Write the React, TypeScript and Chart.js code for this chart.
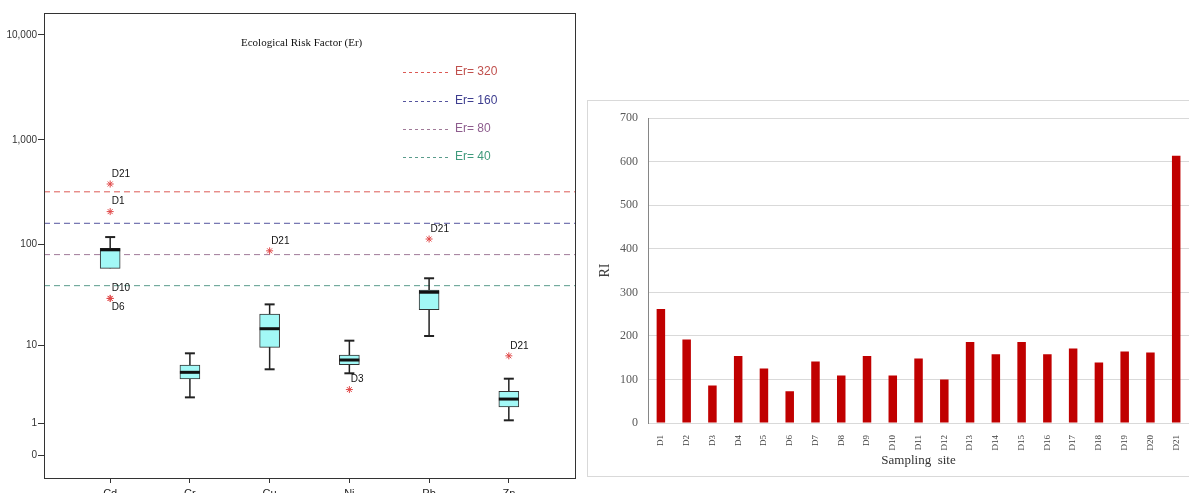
import React, { useEffect, useRef } from "react";
import { Chart, registerables } from "chart.js";

Chart.register(...registerables);

// ---------- Left panel: Ecological Risk Factor (Er) box plots ----------
const elements = ["Cd", "Cr", "Cu", "Ni", "Pb", "Zn"];
const whiskerMin = [59, 2.54, 5.55, 5.0, 12.6, 1.14];
const quartile1 = [59, 4.29, 9.6, 6.24, 23.2, 1.87];
const medians = [89, 5.13, 14.95, 7.03, 34.5, 2.41];
const quartile3 = [92, 6.19, 21.0, 7.96, 36.3, 3.04];
const whiskerMax = [118, 8.3, 26.2, 11.27, 47.2, 4.33];

const outlierElement = [0, 0, 0, 0, 2, 3, 4, 5];
const outlierValues = [380, 207, 30, 30, 87, 3.2, 113, 7.8];
const outlierSites = ["D21", "D1", "D10", "D6", "D21", "D3", "D21", "D21"];
const outlierLabelBelow = [false, false, false, true, false, false, false, false];

const erThresholds = [320, 160, 80, 40];
const erLegendLabels = ["Er= 320", "Er= 160", "Er= 80", "Er= 40"];
const erTickValues = [0, 1, 10, 100, 1000, 10000];
const erTickLabels = ["0", "1", "10", "100", "1,000", "10,000"];

// ---------- Right panel: RI per sampling site ----------
const sites = [
  "D1", "D2", "D3", "D4", "D5", "D6", "D7", "D8", "D9", "D10", "D11",
  "D12", "D13", "D14", "D15", "D16", "D17", "D18", "D19", "D20", "D21",
];
const riValues = [
  262, 192, 86, 154, 125, 73, 141, 109, 154, 109, 148,
  100, 186, 158, 186, 158, 171, 139, 164, 162, 614,
];

const tf = (v: number) => Math.log10(v + 1);
const X_MIN = -0.83;
const X_MAX = 5.83;

const erLineColors = ["#dc5a55", "#55559e", "#a07a98", "#5a9c8c"];
const erTextColors = ["#c0504d", "#3d3d8f", "#8e5d8e", "#3f9a7c"];

const SANS = "'Liberation Sans', Arial, sans-serif";
const SERIF = "'Liberation Serif', 'Times New Roman', serif";

function LeftChart() {
  const ref = useRef<HTMLCanvasElement>(null);
  useEffect(() => {
    if (!ref.current) return;
    const datasets: any[] = [];
    erThresholds.forEach((t, i) =>
      datasets.push({
        type: "line",
        data: [
          { x: X_MIN, y: tf(t) },
          { x: X_MAX, y: tf(t) },
        ],
        borderColor: erLineColors[i],
        borderWidth: 1,
        borderDash: [6, 4],
        pointRadius: 0,
        order: 10,
      })
    );
    elements.forEach((_, i) =>
      datasets.push({
        type: "line",
        data: [
          { x: i, y: tf(whiskerMin[i]) },
          { x: i, y: tf(whiskerMax[i]) },
        ],
        borderColor: "#222",
        borderWidth: 1.5,
        pointRadius: 0,
        order: 8,
      })
    );
    datasets.push({
      type: "bar",
      data: elements.map((_, i) => ({ x: i, y: [tf(quartile1[i]), tf(quartile3[i])] })),
      backgroundColor: "#a2f8f6",
      borderColor: "#333",
      borderWidth: 1,
      borderSkipped: false,
      barThickness: 20,
      order: 6,
    });
    const caps: any[] = [];
    elements.forEach((_, i) => {
      caps.push({ x: i, y: tf(whiskerMax[i]) });
      if (whiskerMin[i] < quartile1[i]) caps.push({ x: i, y: tf(whiskerMin[i]) });
    });
    datasets.push({
      type: "scatter",
      data: caps,
      pointStyle: "line",
      pointRadius: 5,
      borderWidth: 2,
      borderColor: "#222",
      order: 4,
    });
    datasets.push({
      type: "scatter",
      data: elements.map((_, i) => ({ x: i, y: tf(medians[i]) })),
      pointStyle: "line",
      pointRadius: 10,
      borderWidth: 3,
      borderColor: "#111",
      order: 3,
    });
    datasets.push({
      type: "scatter",
      data: outlierValues.map((v, i) => ({ x: outlierElement[i], y: tf(v) })),
      pointStyle: "star",
      pointRadius: 3.5,
      borderWidth: 1,
      borderColor: "#e04848",
      backgroundColor: "#e04848",
      order: 1,
    });
    const outlierIndex = datasets.length - 1;

    const decor = {
      id: "leftDecor",
      afterDraw(chart: any) {
        const { ctx, chartArea: a } = chart;
        ctx.save();
        ctx.strokeStyle = "#333";
        ctx.lineWidth = 1;
        ctx.strokeRect(a.left + 0.5, a.top + 0.5, a.right - a.left, a.bottom - a.top);

        // title
        ctx.fillStyle = "#111";
        ctx.font = `11px ${SERIF}`;
        ctx.textBaseline = "middle";
        ctx.textAlign = "left";
        ctx.fillText("Ecological Risk Factor (Er)", 241, 43);

        // legend
        const ly = [72, 101, 129, 157];
        erLegendLabels.forEach((lab, i) => {
          ctx.strokeStyle = erLineColors[i];
          ctx.setLineDash([3, 3]);
          ctx.beginPath();
          ctx.moveTo(403, ly[i] + 0.5);
          ctx.lineTo(451, ly[i] + 0.5);
          ctx.stroke();
          ctx.setLineDash([]);
          ctx.fillStyle = erTextColors[i];
          ctx.font = `12px ${SANS}`;
          ctx.fillText(lab, 455, ly[i]);
        });

        // outlier labels
        const meta = chart.getDatasetMeta(outlierIndex);
        ctx.fillStyle = "#111";
        ctx.font = `10px ${SANS}`;
        meta.data.forEach((pt: any, i: number) => {
          const dy = outlierLabelBelow[i] ? 9 : -10;
          ctx.fillText(outlierSites[i], pt.x + 1.5, pt.y + dy);
        });
        ctx.restore();
      },
    };

    const chart = new Chart(ref.current, {
      type: "bar",
      data: { datasets },
      plugins: [decor],
      options: {
        responsive: false,
        animation: false,
        events: [],
        layout: { padding: { left: 0, top: 13, right: 5, bottom: 0 } },
        plugins: { legend: { display: false }, tooltip: { enabled: false } },
        scales: {
          x: {
            type: "linear",
            offset: false,
            min: X_MIN,
            max: X_MAX,
            afterFit: (s: any) => {
              s.height = 30;
            },
            afterBuildTicks: (s: any) => {
              s.ticks = elements.map((_, i) => ({ value: i }));
            },
            grid: { drawOnChartArea: false, drawTicks: true, tickLength: 5, color: "#333", offset: false },
            border: { display: true, color: "#333" },
            ticks: {
              autoSkip: false,
              maxRotation: 0,
              padding: 4,
              color: "#222",
              font: { family: SANS, size: 11 },
              callback: (_v: any, i: number) => elements[i],
            },
          },
          y: {
            type: "linear",
            min: -0.219,
            max: 4.2095,
            beginAtZero: false,
            afterFit: (s: any) => {
              s.width = 44;
            },
            afterBuildTicks: (s: any) => {
              s.ticks = erTickValues.map((v) => ({ value: tf(v) }));
            },
            grid: { drawOnChartArea: false, drawTicks: true, tickLength: 6, color: "#333" },
            border: { display: true, color: "#333" },
            ticks: {
              autoSkip: false,
              padding: 1,
              color: "#333",
              font: { family: SANS, size: 10 },
              callback: (_v: any, i: number) => erTickLabels[i],
            },
          },
        },
      } as any,
    });
    return () => chart.destroy();
  }, []);
  return (
    <div style={{ position: "absolute", left: 0, top: 0, width: 588, height: 508 }}>
      <canvas ref={ref} width={588} height={508} style={{ width: 588, height: 508, display: "block" }} />
    </div>
  );
}

function RightChart() {
  const ref = useRef<HTMLCanvasElement>(null);
  useEffect(() => {
    if (!ref.current) return;
    const chart = new Chart(ref.current, {
      type: "bar",
      data: {
        labels: sites,
        datasets: [
          {
            data: riValues,
            backgroundColor: "#c00000",
            borderWidth: 0,
            categoryPercentage: 1,
            barPercentage: 0.33,
          },
        ],
      },
      options: {
        responsive: false,
        animation: false,
        events: [],
        layout: { padding: { left: 5, top: 16, right: 0, bottom: 0 } },
        plugins: { legend: { display: false }, tooltip: { enabled: false } },
        scales: {
          x: {
            afterFit: (s: any) => {
              s.height = 53;
            },
            grid: { display: false },
            border: { display: false },
            ticks: {
              autoSkip: false,
              minRotation: 90,
              maxRotation: 90,
              padding: 4,
              color: "#404040",
              font: { family: SERIF, size: 9 },
            },
            title: {
              display: true,
              text: "Sampling  site",
              color: "#333",
              font: { family: SERIF, size: 13 },
              padding: { top: 0, bottom: 8 },
            },
          },
          y: {
            min: 0,
            max: 700,
            afterFit: (s: any) => {
              s.width = 55;
            },
            grid: { color: "#d9d9d9", drawTicks: false },
            border: { display: true, color: "#868686" },
            ticks: {
              stepSize: 100,
              padding: 10,
              color: "#595959",
              font: { family: SERIF, size: 12 },
            },
            title: {
              display: true,
              text: "RI",
              color: "#404040",
              font: { family: SERIF, size: 14 },
              padding: { top: 4, bottom: 0 },
            },
          },
        },
      } as any,
    });
    return () => chart.destroy();
  }, []);
  return (
    <div
      style={{
        position: "absolute",
        left: 587,
        top: 100,
        width: 620,
        height: 377,
        border: "1px solid #d9d9d9",
        boxSizing: "border-box",
        background: "#fff",
      }}
    >
      <canvas
        ref={ref}
        width={603}
        height={375}
        style={{ position: "absolute", left: 0, top: 0, width: 603, height: 375, display: "block" }}
      />
    </div>
  );
}

export default function App() {
  return (
    <div
      style={{
        position: "absolute",
        left: 0,
        top: 0,
        width: 1189,
        height: 493,
        overflow: "hidden",
        background: "#fff",
      }}
    >
      <LeftChart />
      <RightChart />
    </div>
  );
}
